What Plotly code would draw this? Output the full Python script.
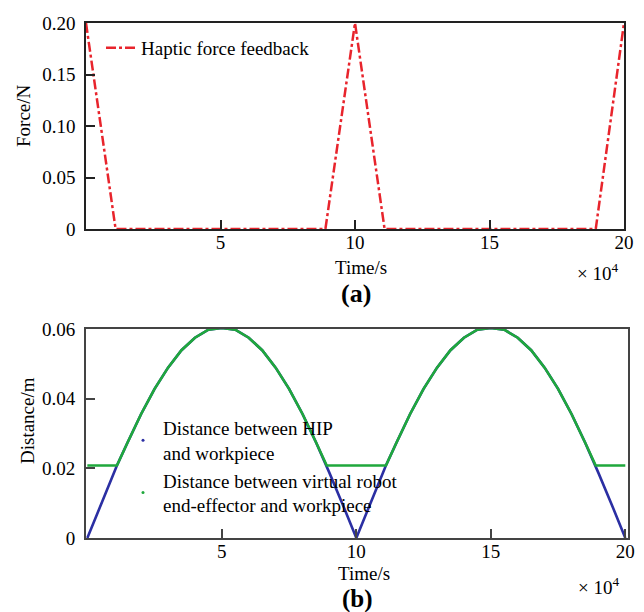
import plotly.graph_objects as go

# ---------------- data ----------------
# (a) haptic force feedback, time in units of 1e4 s
force_time = [0, 1.1, 8.9, 10, 11.1, 18.95, 20]
force_val = [0.20, 0.0, 0.0, 0.20, 0.0, 0.0, 0.20]

# (b) distances, time in units of 1e4 s
dist_time = [0, 0.5, 1.0, 1.1, 1.5, 2.0, 2.5, 3.0, 3.5, 4.0, 4.5, 5.0,
             5.5, 6.0, 6.5, 7.0, 7.5, 8.0, 8.5, 8.9, 9.0, 9.5, 10.0,
             10.5, 11.0, 11.1, 11.5, 12.0, 12.5, 13.0, 13.5, 14.0, 14.5, 15.0,
             15.5, 16.0, 16.5, 17.0, 17.5, 18.0, 18.5, 18.9, 19.0, 19.5, 20.0]
hip_dist = [0.0, 0.0095, 0.0187, 0.0208, 0.0275, 0.0356, 0.0428, 0.0489, 0.0539, 0.0575, 0.0598, 0.0603,
            0.0598, 0.0575, 0.0539, 0.0489, 0.0428, 0.0356, 0.0275, 0.0208, 0.0187, 0.0095, 0.0,
            0.0095, 0.0187, 0.0208, 0.0275, 0.0356, 0.0428, 0.0489, 0.0539, 0.0575, 0.0598, 0.0603,
            0.0598, 0.0575, 0.0539, 0.0489, 0.0428, 0.0356, 0.0275, 0.0208, 0.0187, 0.0095, 0.0]
robot_dist = [0.0208, 0.0208, 0.0208, 0.0208, 0.0275, 0.0356, 0.0428, 0.0489, 0.0539, 0.0575, 0.0598, 0.0603,
              0.0598, 0.0575, 0.0539, 0.0489, 0.0428, 0.0356, 0.0275, 0.0208, 0.0208, 0.0208, 0.0208,
              0.0208, 0.0208, 0.0208, 0.0275, 0.0356, 0.0428, 0.0489, 0.0539, 0.0575, 0.0598, 0.0603,
              0.0598, 0.0575, 0.0539, 0.0489, 0.0428, 0.0356, 0.0275, 0.0208, 0.0208, 0.0208, 0.0208]

x_tickvals = [5, 10, 15, 20]
x_ticktext = ["5", "10", "15", "20"]
ya_tickvals = [0, 0.05, 0.10, 0.15, 0.20]
ya_ticktext = ["0", "0.05", "0.10", "0.15", "0.20"]
yb_tickvals = [0, 0.02, 0.04, 0.06]
yb_ticktext = ["0", "0.02", "0.04", "0.06"]

name_force = "Haptic force feedback"
name_hip = "Distance between HIP<br>and workpiece"
name_robot = "Distance between virtual robot<br>end-effector and workpiece"

# ---------------- style ----------------
W, H = 644, 612
FONT = "Liberation Serif"
RED = "#e8242c"
BLUE = "#2b2fa3"
GREEN = "#1fa83c"


def px(x):
    return x / W


def py(y):
    return 1 - y / H


fig = go.Figure()

fig.add_trace(go.Scatter(x=force_time, y=force_val, mode="lines", name=name_force,
                         line=dict(color=RED, width=2.5, dash="10px,3px,3px,3px"),
                         xaxis="x", yaxis="y", legend="legend"))

fig.add_trace(go.Scatter(x=dist_time, y=hip_dist, mode="lines", name=name_hip,
                         line=dict(color=BLUE, width=2.6), showlegend=False,
                         xaxis="x2", yaxis="y2"))
fig.add_trace(go.Scatter(x=dist_time, y=robot_dist, mode="lines", name=name_robot,
                         line=dict(color=GREEN, width=2.6), showlegend=False,
                         xaxis="x2", yaxis="y2"))
# legend entries (dot symbols, as in the original)
fig.add_trace(go.Scatter(x=[None], y=[None], mode="markers", name=name_hip,
                         marker=dict(color=BLUE, size=3), xaxis="x2", yaxis="y2",
                         legend="legend2"))
fig.add_trace(go.Scatter(x=[None], y=[None], mode="markers", name=name_robot,
                         marker=dict(color=GREEN, size=3), xaxis="x2", yaxis="y2",
                         legend="legend2"))

tickfont = dict(family=FONT, size=19, color="black")


def xax(domain, rng, anchor, lc, lw):
    return dict(domain=domain, range=rng, anchor=anchor, showline=True, mirror=True,
                linecolor=lc, linewidth=lw, ticks="inside", ticklen=9, tickwidth=lw,
                tickcolor=lc, tickvals=x_tickvals, ticktext=x_ticktext, tickfont=tickfont,
                showgrid=False, zeroline=False, automargin=False, ticklabelstandoff=-5)


def yax(domain, rng, anchor, lc, lw, tv, tt):
    return dict(domain=domain, range=rng, anchor=anchor, showline=True, mirror=True,
                linecolor=lc, linewidth=lw, ticks="inside", ticklen=9, tickwidth=lw,
                tickcolor=lc, tickvals=tv, ticktext=tt, tickfont=tickfont,
                showgrid=False, zeroline=False, automargin=False, ticklabelstandoff=5)


ann_font = dict(family=FONT, size=19, color="black")
annotations = [
    dict(text="Force/N", x=px(23), y=py(116), textangle=-90),
    dict(text="Time/s", x=px(361), y=py(267)),
    dict(text="\u00d7 10<sup>4</sup>", x=px(597), y=py(272)),
    dict(text="<b>(a)</b>", x=px(356), y=py(293), font=dict(family=FONT, size=26, color="black")),
    dict(text="Distance/m", x=px(27), y=py(421), textangle=-90),
    dict(text="Time/s", x=px(364), y=py(573)),
    dict(text="\u00d7 10<sup>4</sup>", x=px(598), y=py(586)),
    dict(text="<b>(b)</b>", x=px(357), y=py(599), font=dict(family=FONT, size=25, color="black")),
]
for a in annotations:
    a.setdefault("font", ann_font)
    a.update(xref="paper", yref="paper", showarrow=False, xanchor="center", yanchor="middle")

fig.update_layout(
    width=W, height=H, autosize=False,
    margin=dict(l=0, r=0, t=0, b=0, pad=0),
    paper_bgcolor="white", plot_bgcolor="white",
    font=dict(family=FONT, size=19, color="black"),
    xaxis=xax([px(86), px(624)], [0, 20], "y", "#222222", 1.5),
    yaxis=yax([py(229), py(23)], [0, 0.2], "x", "#222222", 1.5, ya_tickvals, ya_ticktext),
    xaxis2=xax([px(86), px(628)], [-0.05, 20.1], "y2", "#444444", 2),
    yaxis2=yax([py(538), py(329)], [0, 0.06], "x2", "#444444", 2, yb_tickvals, yb_ticktext),
    legend=dict(x=px(101), y=py(29), xanchor="left", yanchor="top", bgcolor="rgba(0,0,0,0)",
                font=dict(family=FONT, size=19, color="black"), itemwidth=30),
    legend2=dict(x=px(123), y=py(409), xanchor="left", yanchor="top", bgcolor="rgba(0,0,0,0)",
                 font=dict(family=FONT, size=19, color="black"), itemwidth=30, tracegroupgap=3),
    annotations=annotations,
    showlegend=True,
)

fig.write_html("out.html", config={"displayModeBar": False},
               post_script="document.body.style.margin='0';document.body.style.overflow='hidden';")
